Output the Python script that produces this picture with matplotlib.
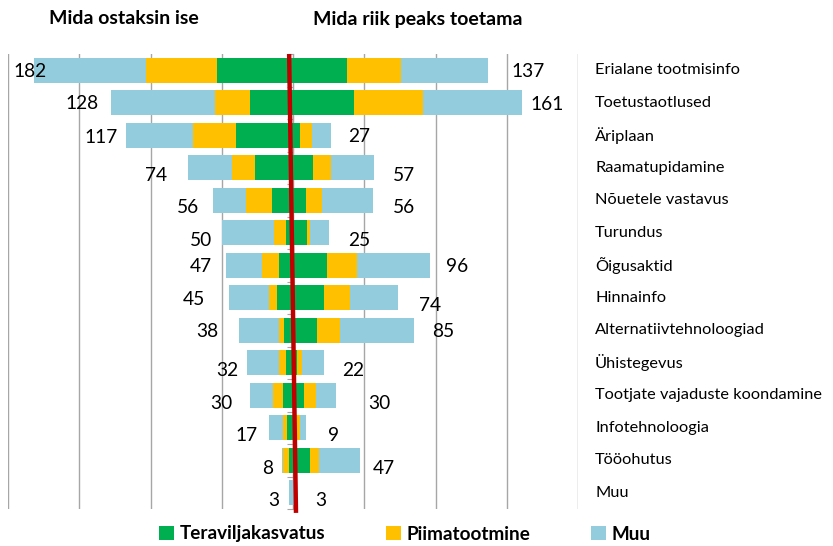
import matplotlib
matplotlib.use("Agg")
import matplotlib.pyplot as plt
from matplotlib.patches import Patch
import numpy as np

plt.rcParams['font.family'] = ['Lato', 'DejaVu Sans']

# ---- data ----
categories = ["Erialane tootmisinfo", "Toetustaotlused", "Äriplaan", "Raamatupidamine",
              "Nõuetele vastavus", "Turundus", "Õigusaktid", "Hinnainfo",
              "Alternatiivtehnoloogiad", "Ühistegevus", "Tootjate vajaduste koondamine",
              "Infotehnoloogia", "Tööohutus", "Muu"]
series_names = ["Teraviljakasvatus", "Piimatootmine", "Muu"]
# "Mida ostaksin ise" (left side)
own_grain = [53, 30, 40, 27, 15, 5, 10, 11, 6, 5, 7, 4, 3, 0]
own_dairy = [50, 25, 30, 16, 18, 8, 12, 6, 4, 5, 7, 3, 4, 0]
own_other = [79, 73, 47, 31, 23, 37, 25, 28, 28, 22, 16, 10, 1, 3]
# "Mida riik peaks toetama" (right side)
state_grain = [38, 43, 5, 14, 9, 10, 24, 22, 17, 3, 8, 2, 12, 0]
state_dairy = [38, 48, 8, 13, 11, 2, 21, 18, 16, 3, 8, 3, 6, 0]
state_other = [61, 70, 14, 30, 36, 13, 51, 34, 52, 16, 14, 4, 29, 3]
header_left = "Mida ostaksin ise"
header_right = "Mida riik peaks toetama"

# ---- layout (label placement, as in the original slide) ----
lab_off_left = [9.4, -8.1, -5.8, -14.4, -10, -6.8, -9.8, -16.8, -14.6, -6.6, -12.8, -7.6, -6, -6.8]
lab_off_right = [16, 5.3, 11.6, 13.2, 14.2, 13.6, 11.4, 14.4, 12.5, 12.4, 22.6, 15.6, 9.1, 12.4]
lab_dy_left = [1.7, 0.5, 2, 7.5, 7, 8.2, 1.7, 1.5, 1.7, 8.2, 8.3, 8.2, 8.3, 8.2]
lab_dy_right = [1.7, 1.5, 1.7, 7.5, 7.3, 8.2, 1.7, 7.5, 1.7, 8.2, 8.3, 8.2, 8.3, 8.2]

colors = ["#00B050", "#FFC000", "#93CDDD"]

W, H = 833, 546
fig = plt.figure(figsize=(W / 100, H / 100), dpi=100)
fig.patch.set_facecolor("white")
ax = fig.add_axes([8 / W, 1 - 509 / H, (578 - 8) / W, (509 - 54) / H])

y = np.arange(len(categories))
bh = 0.77

left_series = [own_grain, own_dairy, own_other]
right_series = [state_grain, state_dairy, state_other]

cum = np.zeros(len(categories))
for vals, c in zip(left_series, colors):
    v = np.array(vals, dtype=float)
    ax.barh(y, -v, left=-cum, height=bh, color=c, edgecolor="none", zorder=3)
    cum += v
own_tot = cum.copy()

cum = np.zeros(len(categories))
for vals, c in zip(right_series, colors):
    v = np.array(vals, dtype=float)
    ax.barh(y, v, left=cum, height=bh, color=c, edgecolor="none", zorder=3)
    cum += v
state_tot = cum.copy()

ax.set_xlim(-200, 200)
ax.set_ylim(len(categories) - 0.5, -0.5)

# gridlines
ax.set_xticks(np.arange(-200, 201, 50))
ax.grid(axis="x", color="#A6A6A6", linewidth=1.0, zorder=0)
ax.tick_params(axis="x", length=0, labelbottom=False)
for s in ["top", "right", "bottom"]:
    ax.spines[s].set_visible(False)
ax.spines["left"].set_position(("data", 0))
ax.spines["left"].set_color("#A6A6A6")
ax.spines["left"].set_zorder(2)
ax.set_yticks(np.arange(-0.5, len(categories), 1.0))
ax.tick_params(axis="y", length=4, color="#A6A6A6", labelleft=False, direction="out")

px_per_row = (509 - 54) / len(categories)

# value labels
for i in range(len(categories)):
    ax.text(-own_tot[i] + lab_off_left[i], i + lab_dy_left[i] / px_per_row,
            f"{int(own_tot[i])}", ha="right", va="center", fontsize=13.8,
            color="black", zorder=5)
    ax.text(state_tot[i] + lab_off_right[i], i + lab_dy_right[i] / px_per_row,
            f"{int(state_tot[i])}", ha="left", va="center", fontsize=13.8,
            color="black", zorder=5)

# category labels
for i, cat in enumerate(categories):
    ax.text(212, i, cat, ha="left", va="center", fontsize=11.8, color="black",
            clip_on=False)

# red divider line
ax.plot([-2.7, 2.1], [-0.5, 13.62], color="#C00000", linewidth=3.2,
        solid_capstyle="butt", clip_on=False, zorder=6)

# headers
fig.text(49 / W, 1 - 19 / H, header_left, ha="left", va="center",
         fontsize=14, fontweight="bold")
fig.text(313 / W, 1 - 19 / H, header_right, ha="left", va="center",
         fontsize=14, fontweight="bold")

# legend
handles = [Patch(facecolor=c, edgecolor="none", label=n) for c, n in zip(colors, series_names)]
fig.legend(handles=handles, loc="center", bbox_to_anchor=(405 / W, 1 - 534 / H),
           ncol=3, frameon=False, prop={"size": 13.6, "weight": "bold"},
           handlelength=0.8, handleheight=0.8, handletextpad=0.3,
           columnspacing=3.2, borderaxespad=0)

fig.savefig("out.png", dpi=100)
